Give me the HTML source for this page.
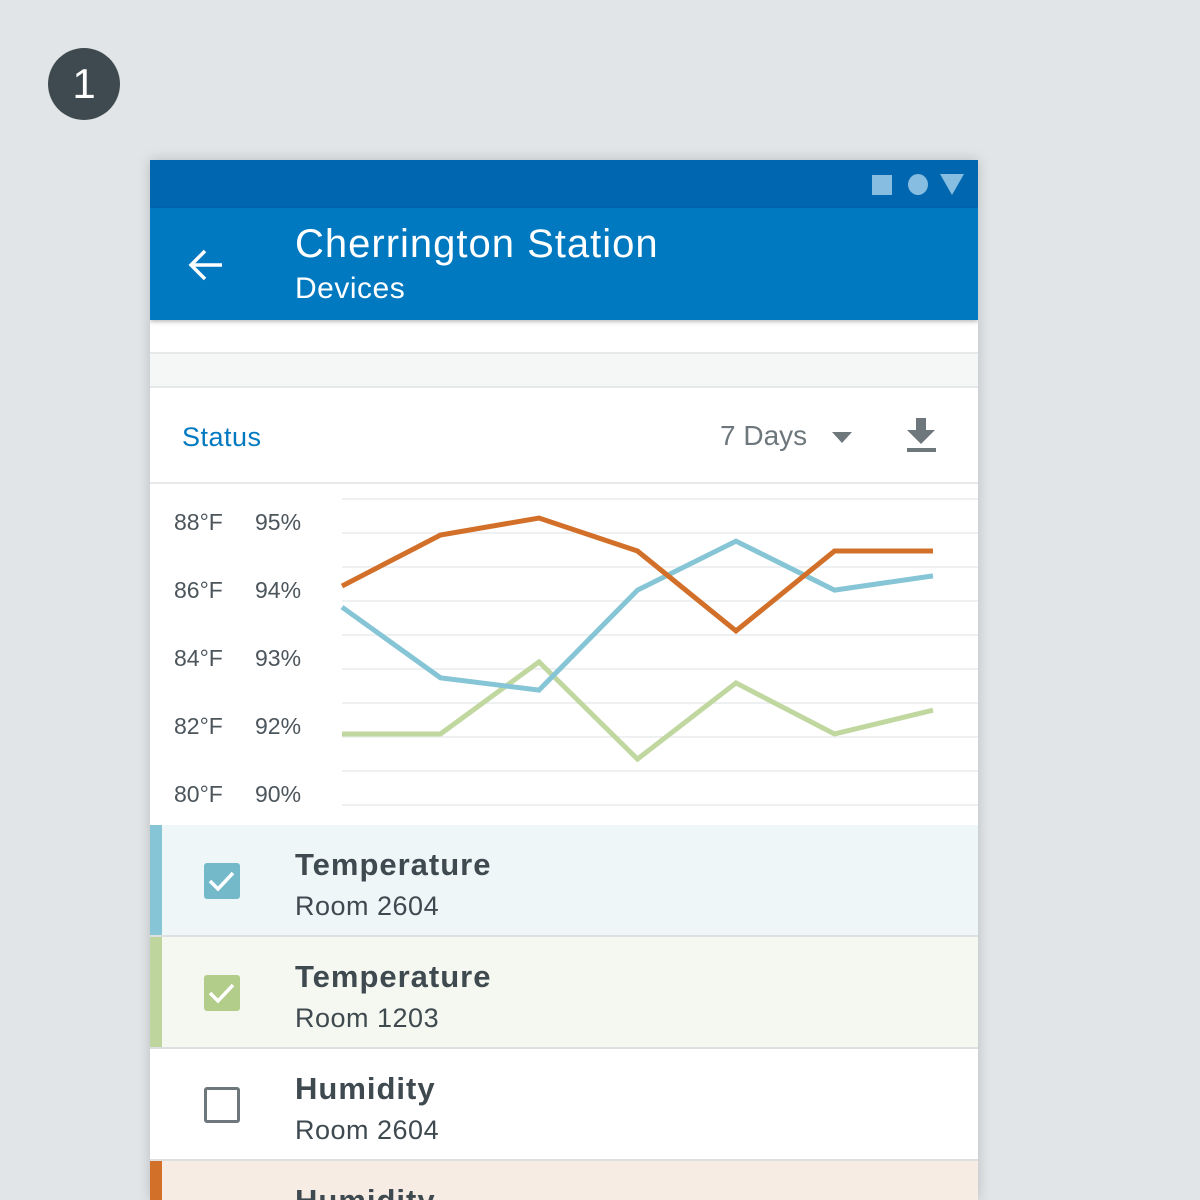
<!DOCTYPE html>
<html><head><meta charset="utf-8"><style>
*{margin:0;padding:0;box-sizing:border-box}
html,body{width:1200px;height:1200px;overflow:hidden}
body{background:#e1e5e7;position:relative;font-family:"Liberation Sans",sans-serif}
.abs{position:absolute}
.card{left:150px;top:160px;width:828px;height:1040px;background:#fff;box-shadow:0 0 12px rgba(0,0,0,0.18);overflow:hidden}
.row{position:absolute;left:0;width:828px;height:112px;border-bottom:2px solid #dde0e1}
.bar{position:absolute;left:0;top:0;width:12px;height:100%}
.cb{position:absolute;left:54px;top:38px;width:36px;height:36px;border-radius:3px}
.t1{position:absolute;left:145px;top:22px;font-size:31px;font-weight:bold;color:#3f4a50;letter-spacing:1px}
.t2{position:absolute;left:145px;top:66px;font-size:27px;color:#3f4a50;letter-spacing:0.5px}
</style></head><body>
<div class="abs" style="left:48px;top:48px;width:72px;height:72px;border-radius:50%;background:#3f4a50;color:#fff;font-size:42px;text-align:center;line-height:72px">1</div>
<div class="abs card">
  <div class="abs" style="left:0;top:0;width:828px;height:48px;background:#0066b0">
    <div class="abs" style="left:722px;top:15px;width:20px;height:20px;background:#86bde0"></div>
    <div class="abs" style="left:758px;top:14px;width:20px;height:21px;border-radius:50%;background:#86bde0"></div>
    <svg class="abs" style="left:790px;top:14px" width="24" height="21"><polygon points="0,0 24,0 12,21" fill="#86bde0"/></svg>
  </div>
  <div class="abs" style="left:0;top:48px;width:828px;height:112px;background:#0079c1;box-shadow:0 2px 4px rgba(0,0,0,0.25)">
    <svg class="abs" style="left:38px;top:40px" width="36" height="34"><path d="M34 17H4M17 3L3 17l14 14" stroke="#fff" stroke-width="3.5" fill="none"/></svg>
    <div class="abs" style="left:145px;top:14px;font-size:40px;color:#fff;letter-spacing:1px">Cherrington Station</div>
    <div class="abs" style="left:145px;top:64px;font-size:30px;color:#fff;letter-spacing:0.5px">Devices</div>
  </div>
  <div class="abs" style="left:0;top:192px;width:828px;height:36px;background:#f5f6f6;border-top:2px solid #e6e8e9;border-bottom:2px solid #e6e8e9"></div>
  <div class="abs" style="left:32px;top:262px;font-size:27px;color:#0079c1;letter-spacing:0.5px">Status</div>
  <div class="abs" style="left:570px;top:260px;font-size:28px;color:#6e777c">7 Days</div>
  <svg class="abs" style="left:682px;top:272px" width="20" height="12"><polygon points="0,0 20,0 10,11" fill="#6e777c"/></svg>
  <svg class="abs" style="left:756px;top:258px" width="30" height="36"><polygon points="10,0 20,0 20,12 29,12 15,26 1,12 10,12" fill="#6e777c"/><rect x="1" y="30" width="29" height="4" fill="#6e777c"/></svg>
  <div class="abs" style="left:0;top:322px;width:828px;height:2px;background:#e6e8e9"></div>
  <svg class="abs" id="chart" style="left:0;top:324px" width="828" height="340"></svg>
  <div class="row" style="top:665px;background:#eff6f8"><div class="bar" style="background:#86c5d5"></div><div class="cb" style="background:#74b9ca"><svg width="36" height="36"><path d="M6 18l8 8 15-16" stroke="#fff" stroke-width="3.5" fill="none"/></svg></div><div class="t1">Temperature</div><div class="t2">Room 2604</div></div>
  <div class="row" style="top:777px;background:#f5f8f0"><div class="bar" style="background:#bed69e"></div><div class="cb" style="background:#b2cc8a"><svg width="36" height="36"><path d="M6 18l8 8 15-16" stroke="#fff" stroke-width="3.5" fill="none"/></svg></div><div class="t1">Temperature</div><div class="t2">Room 1203</div></div>
  <div class="row" style="top:889px;background:#fff"><div class="cb" style="border:3px solid #6e777c"></div><div class="t1">Humidity</div><div class="t2">Room 2604</div></div>
  <div class="row" style="top:1001px;background:#f6ece4"><div class="bar" style="background:#d2702a"></div><div class="t1">Humidity</div></div>
</div>
<script>
const categories=["D1","D2","D3","D4","D5","D6","D7"];
const humidity2604Orange=[86.44,87.94,88.44,87.47,85.12,87.47,87.47];
const temp2604Blue=[85.82,83.74,83.38,86.32,87.76,86.32,86.74];
const temp1203Green=[82.09,82.09,84.21,81.35,83.59,82.09,82.79];
const tempTicks=["88°F","86°F","84°F","82°F","80°F"];
const humTicks=["95%","94%","93%","92%","90%"];
const tickValues=[88,86,84,82,80];
const svg=document.getElementById('chart');
const NS='http://www.w3.org/2000/svg';
const x=i=>192+i*(783-192)/(categories.length-1);
const y=v=>321-(v-80)*34;
for(let k=0;k<10;k++){
  const l=document.createElementNS(NS,'line');
  
  
  const yy=15+k*34;
  l.setAttribute('x1',192);l.setAttribute('x2',828);l.setAttribute('y1',yy);l.setAttribute('y2',yy);
  l.setAttribute('stroke','#eef0f1');l.setAttribute('stroke-width','2');
  svg.appendChild(l);
}
tickValues.forEach((v,i)=>{
  const t=document.createElementNS(NS,'text');
  
  
  t.setAttribute('x',24);t.setAttribute('y',y(v)-3);
  t.setAttribute('font-size','23');t.setAttribute('fill','#4b555b');t.setAttribute('font-family','Liberation Sans, sans-serif');
  t.textContent=tempTicks[i];svg.appendChild(t);
  const h=document.createElementNS(NS,'text');
  
  
  h.setAttribute('x',105);h.setAttribute('y',y(v)-3);
  h.setAttribute('font-size','23');h.setAttribute('fill','#4b555b');h.setAttribute('font-family','Liberation Sans, sans-serif');
  h.textContent=humTicks[i];svg.appendChild(h);
});
function series(vals,color,name){
  const p=document.createElementNS(NS,'polyline');
  
  
  p.setAttribute('points',vals.map((v,i)=>x(i)+','+y(v)).join(' '));
  p.setAttribute('fill','none');p.setAttribute('stroke',color);p.setAttribute('stroke-width','5');
  svg.appendChild(p);
}
series(temp1203Green,'#c0d7a0','series-temp-1203');
series(temp2604Blue,'#86c5d5','series-temp-2604');
series(humidity2604Orange,'#d2702a','series-humidity');
</script>
</body></html>
